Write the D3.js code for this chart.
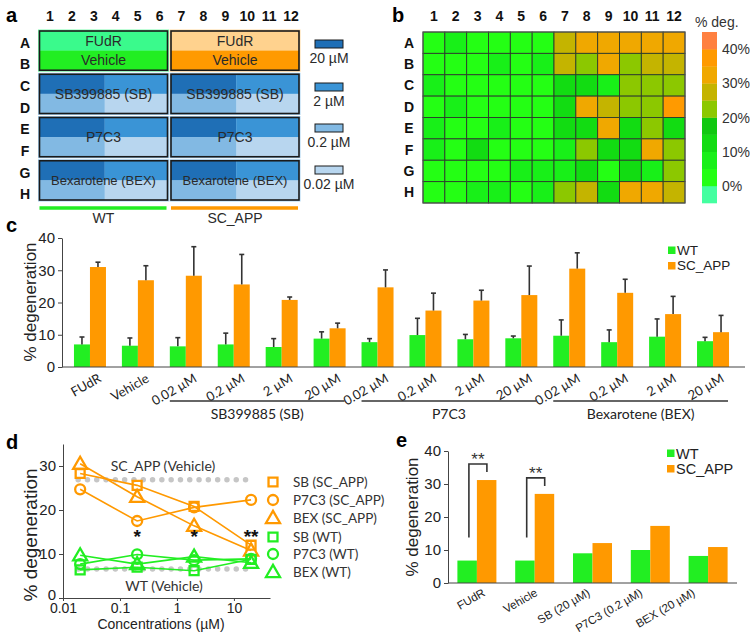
<!DOCTYPE html>
<html><head><meta charset="utf-8">
<script src="https://cdn.jsdelivr.net/npm/d3@7"></script>
<style>body{margin:0;background:#fff} svg{display:block}</style>
</head><body><svg id="fig" width="750" height="637"></svg>
<script>
// ---------- DATA ----------
const wellCols = ["1","2","3","4","5","6","7","8","9","10","11","12"];
const wellRows = ["A","B","C","D","E","F","G","H"];
const strains = ["WT","SC_APP"];
const topLabels = ["FUdR","Vehicle"];
const drugNames = ["SB399885 (SB)","P7C3","Bexarotene (BEX)"];
const concLabels = ["20 µM","2 µM","0.2 µM","0.02 µM"];
const concColors = ["#1f6fb6","#3a94d6","#82b9e3","#b8d6ef"];
const topColorsWT = ["#3afa8c","#22ee22"];
const topColorsAPP = ["#ffd28e","#ff9a00"];
const colorWT = "#22ee22";
const colorAPP = "#ff9900";

// panel b: % degeneration per well (rows A-H, cols 1-12)
const heatA = [4,8,4,4,4,4, 27,32,32,32,32,32];
const heatB = [4,4,4,8,4,8, 27,22,32,22,27,27];
const heatC = [8,4,4,4,4,4, 12,12,8,22,22,22];
const heatD = [4,8,4,4,4,4, 12,32,27,22,22,37];
const heatE = [8,4,4,8,4,4, 12,12,32,12,22,12];
const heatF = [8,4,12,4,4,4, 8,22,12,12,32,22];
const heatG = [4,4,4,4,8,8, 8,12,4,12,8,22];
const heatH = [4,4,8,8,4,8, 22,27,12,32,32,27];
const heatValues = [heatA,heatB,heatC,heatD,heatE,heatF,heatG,heatH];
const heatThresholds = [0,5,10,15,20,25,30,35,40];
const heatColors = ["#44ffa0","#24ff14","#18f018","#12dc12","#10c810","#8cc800","#c4b400","#f0a800","#ff9a00","#ff8040"];
const heatTicks = [0,10,20,30,40];

// panel c
const cLabels = ["FUdR","Vehicle","0.02 µM","0.2 µM","2 µM","20 µM","0.02 µM","0.2 µM","2 µM","20 µM","0.02 µM","0.2 µM","2 µM","20 µM"];
const cWT     = [7.0,6.6,6.4,7.0,6.2,8.8,7.7,9.9,8.6,8.9,9.7,7.7,9.4,8.0];
const cWTerr  = [2.3,2.4,2.7,3.5,2.6,2.1,1.1,5.2,1.5,0.7,4.9,3.8,5.5,1.2];
const cAPP    = [31.0,26.9,28.3,25.6,20.8,12.0,24.7,17.5,20.6,22.3,30.5,23.0,16.4,10.8];
const cAPPerr = [1.5,4.5,9.0,9.3,0.9,1.6,5.4,5.4,3.2,9.0,4.9,4.2,5.5,5.2];
const cGroups = [{name:"SB399885 (SB)",from:2,to:5},{name:"P7C3",from:6,to:9},{name:"Bexarotene (BEX)",from:10,to:13}];
const yTicks40 = [0,10,20,30,40];

// panel d
const dConc = [0.02,0.2,2,20];
const dSB_APP   = [28.3,25.6,20.8,12.0];
const dP7C3_APP = [24.7,17.5,20.6,22.3];
const dBEX_APP  = [30.5,23.0,16.4,10.8];
const dSB_WT    = [6.4,7.0,6.2,8.8];
const dP7C3_WT  = [7.7,9.9,8.6,8.9];
const dBEX_WT   = [9.7,7.7,9.4,8.0];
const dVehicleAPP = 26.9, dVehicleWT = 6.6;
const dXTicks = [0.01,0.1,1,10];
const dXTickLabels = ["0.01","0.1","1","10"];
const dYTicks = [0,10,20,30];
const dSig = [{c:0.2,t:"*"},{c:2,t:"*"},{c:20,t:"**"}];

// panel e
const eLabels = ["FUdR","Vehicle","SB (20 µM)","P7C3 (0.2 µM)","BEX (20 µM)"];
const eWT  = [6.8,6.8,9.0,10.0,8.2];
const eAPP = [31.2,27.0,12.1,17.3,10.9];
const eSig = [0,1];

// ---------- DRAW ----------
const F = '"Liberation Sans", Arial, sans-serif';
const CAL = 'Lato, "Liberation Sans", sans-serif';
const svg = d3.select("#fig");
const ink = "#222";

function txt(g,x,y,s,opt={}){
  return g.append("text").attr("x",x).attr("y",y).text(s)
   .attr("font-family",opt.ff||F).attr("font-size",opt.fs||14)
   .attr("font-weight",opt.fw||"normal").attr("fill",opt.fill||ink)
   .attr("text-anchor",opt.anchor||"start");
}

// panel letters
[["a",6,22],["b",392,22],["c",6,232],["d",6,449],["e",396,447]].forEach(([l,x,y])=>txt(svg,x,y,l,{fs:20,fw:"bold",fill:"#000"}));

// ===== Panel a =====
const pa = svg.append("g");
const ax = d3.scaleBand(wellCols,[39,302]);
const ay = d3.scaleBand(wellRows,[32,205]);
pa.selectAll("text.c").data(wellCols).join("text").attr("class","c")
  .attr("x",d=>ax(d)+ax.bandwidth()/2).attr("y",21).attr("text-anchor","middle")
  .attr("font-family",F).attr("font-size",14).attr("font-weight","bold").attr("fill","#111").text(d=>d);
pa.selectAll("text.r").data(wellRows).join("text").attr("class","r")
  .attr("x",25).attr("y",d=>ay(d)+ay.bandwidth()/2).attr("dy","0.36em").attr("text-anchor","middle")
  .attr("font-family",F).attr("font-size",14).attr("font-weight","bold").attr("fill","#111").text(d=>d);

strains.forEach((s,si)=>{
  const c0 = si===0?"1":"7", c1 = si===0?"6":"12", cMid = si===0?"4":"10";
  const x0 = ax(c0)+0.5, x1 = ax(c1)+ax.bandwidth()-3, xm = ax(cMid);
  const blocks = [["A","B"],["C","D"],["E","F"],["G","H"]];
  blocks.forEach((b,bi)=>{
    const y0 = ay(b[0])-1, y1 = ay(b[1])+ay.bandwidth()-5, ym=(y0+y1)/2;
    const halo = bi===0 ? (si===0?"#7dfcae":"#ffd9a0") : "#a9d3f2";
    pa.append("rect").attr("x",x0-1.5).attr("y",y0-1.5).attr("width",x1-x0+3).attr("height",y1-y0+3).attr("fill",halo);
    if(bi===0){
      const tc = si===0?topColorsWT:topColorsAPP;
      pa.append("rect").attr("x",x0).attr("y",y0).attr("width",x1-x0).attr("height",ym-y0).attr("fill",tc[0]);
      pa.append("rect").attr("x",x0).attr("y",ym).attr("width",x1-x0).attr("height",y1-ym).attr("fill",tc[1]);
    } else {
      const q = [[x0,y0,xm,ym],[xm,y0,x1,ym],[x0,ym,xm,y1],[xm,ym,x1,y1]];
      q.forEach((r,qi)=>pa.append("rect").attr("x",r[0]).attr("y",r[1]).attr("width",r[2]-r[0]).attr("height",r[3]-r[1]).attr("fill",concColors[qi]));
    }
    pa.append("rect").attr("x",x0).attr("y",y0).attr("width",x1-x0).attr("height",y1-y0)
      .attr("fill","none").attr("stroke","#1a1a1a").attr("stroke-width",1.6);
    const xc=(x0+x1)/2;
    if(bi===0){
      txt(pa,xc,(y0+ym)/2+5,topLabels[0],{anchor:"middle",fill:"#2a2a2a"});
      txt(pa,xc,(ym+y1)/2+5,topLabels[1],{anchor:"middle",fill:"#2a2a2a"});
    } else {
      txt(pa,xc,ym+5,drugNames[bi-1],{anchor:"middle",fill:"#2a2a2a",fs:bi===3?13:14});
    }
  });
  pa.append("line").attr("x1",x0).attr("x2",x1-1).attr("y1",208).attr("y2",208)
    .attr("stroke",si===0?colorWT:colorAPP).attr("stroke-width",3.5);
  txt(pa,(x0+x1)/2,223,s,{anchor:"middle",fill:"#2a2a2a"});
});
concLabels.forEach((l,i)=>{
  const y = [40,83,124,166][i];
  pa.append("rect").attr("x",315).attr("y",y).attr("width",28).attr("height",8).attr("fill",concColors[i]).attr("stroke","#1a1a1a").attr("stroke-width",1);
  txt(pa,329,y+23,l,{anchor:"middle",fill:"#2a2a2a"});
});

// ===== Panel b =====
const pb = svg.append("g");
const bx = d3.scaleBand(wellCols,[423,685]);
const by = d3.scaleBand(wellRows,[32,203]);
const heatColor = d3.scaleThreshold(heatThresholds, heatColors);
pb.selectAll("text.c").data(wellCols).join("text")
  .attr("x",d=>bx(d)+bx.bandwidth()/2).attr("y",21).attr("text-anchor","middle")
  .attr("font-family",F).attr("font-size",14).attr("font-weight","bold").attr("fill","#111").text(d=>d);
pb.selectAll("text.r").data(wellRows).join("text")
  .attr("x",409).attr("y",d=>by(d)+by.bandwidth()/2).attr("dy","0.36em").attr("text-anchor","middle")
  .attr("font-family",F).attr("font-size",14).attr("font-weight","bold").attr("fill","#111").text(d=>d);
const cells = [];
heatValues.forEach((row,ri)=>row.forEach((v,ci)=>cells.push({r:wellRows[ri],c:wellCols[ci],v})));
pb.selectAll("rect.cell").data(cells).join("rect")
  .attr("x",d=>bx(d.c)).attr("y",d=>by(d.r)).attr("width",bx.bandwidth()).attr("height",by.bandwidth())
  .attr("fill",d=>heatColor(d.v)).attr("stroke","#2d3a2d").attr("stroke-width",0.9);
pb.append("rect").attr("x",423).attr("y",32).attr("width",262).attr("height",171).attr("fill","none").attr("stroke","#555").attr("stroke-width",1);
const yC = d3.scaleLinear([-5,45],[203,32]);
d3.range(-5,45,5).forEach(lo=>{
  pb.append("rect").attr("x",702).attr("y",yC(lo+5)).attr("width",15).attr("height",yC(lo)-yC(lo+5)+0.3).attr("fill",heatColor(lo+2.5));
});
heatTicks.forEach(t=>txt(pb,722,yC(t)+5,t+"%",{fill:"#333"}));
txt(pb,695,27,"% deg.",{fill:"#333"});

// ===== Panel c =====
const pc = svg.append("g");
const cy = d3.scaleLinear([0,40],[367,238]);
const cx = d3.scaleBand(d3.range(cLabels.length),[66,737]);
const cSeries = d3.scaleBand(strains,[0,32]);
const cyAxis = pc.append("g").attr("transform","translate(62,0)")
  .call(d3.axisLeft(cy).tickValues(yTicks40).tickSize(4).tickSizeOuter(0));
cyAxis.selectAll("text").attr("font-family",F).attr("font-size",15).attr("fill",ink);
cyAxis.selectAll("line,path").attr("stroke","#444");
const ccen = i=>cx(i)+cx.bandwidth()/2;
const cData = [];
cLabels.forEach((l,i)=>{cData.push({i,s:"WT",v:cWT[i],e:cWTerr[i]});cData.push({i,s:"SC_APP",v:cAPP[i],e:cAPPerr[i]});});
pc.selectAll("rect.bar").data(cData).join("rect")
  .attr("x",d=>ccen(d.i)-16+cSeries(d.s)).attr("width",cSeries.bandwidth())
  .attr("y",d=>cy(d.v)).attr("height",d=>cy(0)-cy(d.v))
  .attr("fill",d=>d.s==="WT"?colorWT:colorAPP);
cData.forEach(d=>{
  const xm = ccen(d.i)-16+cSeries(d.s)+cSeries.bandwidth()/2;
  pc.append("line").attr("x1",xm).attr("x2",xm).attr("y1",cy(d.v)).attr("y2",cy(d.v+d.e)).attr("stroke","#333").attr("stroke-width",1.6);
  pc.append("line").attr("x1",xm-2.5).attr("x2",xm+2.5).attr("y1",cy(d.v+d.e)).attr("y2",cy(d.v+d.e)).attr("stroke","#333").attr("stroke-width",1.6);
});
pc.append("line").attr("x1",62).attr("x2",745).attr("y1",367).attr("y2",367).attr("stroke","#444");
cLabels.forEach((l,i)=>{
  pc.append("text").attr("transform",`translate(${ccen(i)+12},${381}) rotate(-30)`)
    .attr("text-anchor","end").attr("font-family",CAL).attr("font-size",13).attr("fill",ink).text(l);
});
cGroups.forEach(g=>{
  const xa = ccen(g.from)-16, xb = ccen(g.to)+15;
  pc.append("line").attr("x1",xa).attr("x2",xb).attr("y1",401).attr("y2",401).attr("stroke","#333").attr("stroke-width",1.5);
  txt(pc,(xa+xb)/2,419,g.name,{anchor:"middle",ff:CAL,fs:14});
});
pc.append("text").attr("transform","translate(36,302) rotate(-90)").attr("text-anchor","middle")
  .attr("font-family",F).attr("font-size",17).attr("fill",ink).text("% degeneration");
[[colorWT,"WT",246.5],[colorAPP,"SC_APP",262]].forEach(([c,l,y])=>{
  pc.append("rect").attr("x",668).attr("y",y).attr("width",7.5).attr("height",7.5).attr("fill",c);
  txt(pc,677,y+8,l,{fs:13.5});
});

// ===== Panel d =====
const pd = svg.append("g");
const dx = d3.scaleLog([0.01,43],[63,270]);
const dy = d3.scaleLinear([0,35],[598,444]);
const dyAxis = pd.append("g").attr("transform","translate(63,0)")
  .call(d3.axisLeft(dy).tickValues(dYTicks).tickSize(4).tickSizeOuter(0));
const dxAxis = pd.append("g").attr("transform","translate(0,598)")
  .call(d3.axisBottom(dx).tickValues(dXTicks).tickFormat((d,i)=>dXTickLabels[i]).tickSize(3).tickSizeOuter(0));
[dyAxis,dxAxis].forEach(a=>{a.selectAll("text").attr("font-family",F).attr("font-size",15).attr("fill",ink);a.selectAll("line,path").attr("stroke","#444");});
dxAxis.selectAll("text").attr("font-size",14).attr("dy","0.66em");
dyAxis.selectAll("text").filter(d=>d===0).attr("dy","0.1em");
// vehicle reference dotted lines
[dVehicleAPP,dVehicleWT].forEach(v=>{
  pd.append("line").attr("x1",dx(dConc[0])-2).attr("x2",dx(dConc[3])).attr("y1",dy(v)).attr("y2",dy(v))
    .attr("stroke","#c6c6c6").attr("stroke-width",5.5).attr("stroke-linecap","round").attr("stroke-dasharray","0 9.3");
});
txt(pd,163,471,"SC_APP (Vehicle)",{anchor:"middle",ff:CAL,fs:14,fill:"#333"});
txt(pd,164,591,"WT (Vehicle)",{anchor:"middle",ff:CAL,fs:14,fill:"#333"});
const dSeries = [
  {name:"SB (SC_APP)",vals:dSB_APP,color:colorAPP,shape:"square"},
  {name:"P7C3 (SC_APP)",vals:dP7C3_APP,color:colorAPP,shape:"circle"},
  {name:"BEX (SC_APP)",vals:dBEX_APP,color:colorAPP,shape:"triangle"},
  {name:"SB (WT)",vals:dSB_WT,color:colorWT,shape:"square"},
  {name:"P7C3 (WT)",vals:dP7C3_WT,color:colorWT,shape:"circle"},
  {name:"BEX (WT)",vals:dBEX_WT,color:colorWT,shape:"triangle"}
];
const symType = {square:d3.symbolSquare,circle:d3.symbolCircle,triangle:d3.symbolTriangle};
const symSize = {square:80,circle:78,triangle:85};
const lineGen = d3.line().x((d,i)=>dx(dConc[i])).y(d=>dy(d));
dSeries.forEach(s=>{
  pd.append("path").attr("d",lineGen(s.vals)).attr("fill","none").attr("stroke",s.color).attr("stroke-width",1.6);
});
dSeries.forEach(s=>{
  s.vals.forEach((v,i)=>{
    pd.append("path").attr("d",d3.symbol(symType[s.shape],symSize[s.shape])())
      .attr("transform",`translate(${dx(dConc[i])},${dy(v)+(s.shape==="triangle"?1:0)})`)
      .attr("fill","none").attr("stroke",s.color).attr("stroke-width",2.3);
  });
});
dSig.forEach(sg=>txt(pd,dx(sg.c),543,sg.t,{anchor:"middle",fs:19,fw:"bold",fill:"#111"}));
dSeries.forEach((s,i)=>{
  const y = [482,500,518,537,554,572][i];
  pd.append("path").attr("d",d3.symbol(symType[s.shape],symSize[s.shape])())
    .attr("transform",`translate(273,${y+(s.shape==="triangle"?1:0)})`)
    .attr("fill","none").attr("stroke",s.color).attr("stroke-width",2.3);
  txt(pd,293,y+5,s.name,{ff:CAL,fs:13.5,fill:"#333"});
});
pd.append("text").attr("transform","translate(37,535) rotate(-90)").attr("text-anchor","middle")
  .attr("font-family",F).attr("font-size",19).attr("fill",ink).text("% degeneration");
txt(pd,161,629,"Concentrations (µM)",{anchor:"middle",fs:14});

// ===== Panel e =====
const pe = svg.append("g");
const ey = d3.scaleLinear([0,40],[583,451]);
const ex = d3.scaleBand(d3.range(eLabels.length),[448,737]);
const eSer = d3.scaleBand(strains,[0,39]);
const eyAxis = pe.append("g").attr("transform","translate(448,0)")
  .call(d3.axisLeft(ey).tickValues(yTicks40).tickSize(4).tickSizeOuter(0));
eyAxis.selectAll("text").attr("font-family",F).attr("font-size",15).attr("fill",ink);
eyAxis.selectAll("line,path").attr("stroke","#444");
const ecen = i=>ex(i)+ex.bandwidth()/2;
const eData = [];
eLabels.forEach((l,i)=>{eData.push({i,s:"WT",v:eWT[i]});eData.push({i,s:"SC_APP",v:eAPP[i]});});
pe.selectAll("rect.bar").data(eData).join("rect")
  .attr("x",d=>ecen(d.i)-19.5+eSer(d.s)).attr("width",eSer.bandwidth())
  .attr("y",d=>ey(d.v)).attr("height",d=>ey(0)-ey(d.v))
  .attr("fill",d=>d.s==="WT"?colorWT:colorAPP);
pe.append("line").attr("x1",448).attr("x2",737).attr("y1",583).attr("y2",583).attr("stroke","#444");
eLabels.forEach((l,i)=>{
  pe.append("text").attr("transform",`translate(${ecen(i)+9 - i*5.3},${595}) rotate(-30)`)
    .attr("text-anchor","end").attr("font-family",F).attr("font-size",11.5).attr("fill",ink).text(l);
});
eSig.forEach(i=>{
  const xl = ecen(i)-8, xr = ecen(i)+10;
  const ytop = ey(eAPP[i])-16, yr = ey(eAPP[i])-8;
  pe.append("path").attr("d",`M${xl},${ey(13.8)}V${ytop}H${xr}V${yr}`)
    .attr("fill","none").attr("stroke","#333").attr("stroke-width",1.6);
  txt(pe,(xl+xr)/2,ytop+1,"**",{anchor:"middle",fs:17,fill:"#333"});
});
[[colorWT,"WT",449.5],[colorAPP,"SC_APP",465]].forEach(([c,l,y])=>{
  pe.append("rect").attr("x",667).attr("y",y).attr("width",7.5).attr("height",7.5).attr("fill",c);
  txt(pe,676,y+9,l,{fs:14.5});
});
pe.append("text").attr("transform","translate(418,517) rotate(-90)").attr("text-anchor","middle")
  .attr("font-family",F).attr("font-size",17).attr("fill",ink).text("% degeneration");
</script></body></html>
